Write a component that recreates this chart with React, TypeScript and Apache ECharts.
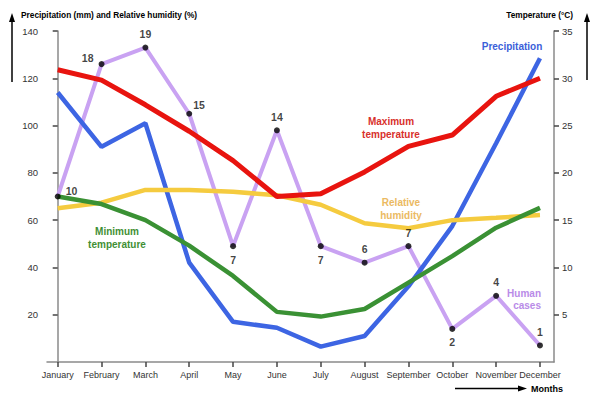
import React, { useEffect, useRef } from "react";
import * as echarts from "echarts";

const months = ["January", "February", "March", "April", "May", "June", "July", "August", "September", "October", "November", "December"];
const precipitation = [114, 91, 101, 42, 17, 14.5, 6.5, 11, 32, 57.5, 92.5, 128.5];
const humidity = [65, 67.4, 72.8, 72.8, 72, 70.5, 66.5, 58.7, 56.6, 60, 61, 62.2];
const maxTemp = [30.9, 29.8, 27.2, 24.4, 21.3, 17.5, 17.8, 20.1, 22.8, 24.0, 28.1, 30.0];
const minTemp = [17.5, 16.7, 15.0, 12.3, 9.1, 5.3, 4.8, 5.6, 8.4, 11.2, 14.2, 16.3];
const humanCases = [10, 18, 19, 15, 7, 14, 7, 6, 7, 2, 4, 1];
const leftTicks = [20, 40, 60, 80, 100, 120, 140];
const rightTicks = [5, 10, 15, 20, 25, 30, 35];
const caseLabelPos = ["right", "left", "top", "upright", "bottom", "top", "bottom", "top", "top", "bottom", "top", "top"];

const FONT = "'Liberation Sans', Arial, Helvetica, sans-serif";

export default function App() {
  const ref = useRef<HTMLDivElement>(null);
  useEffect(() => {
    if (!ref.current) return;
    const chart = echarts.init(ref.current, null, { renderer: "svg" });
    const pts = (arr: number[]) => arr.map((v, i) => [i, v]);
    const axisLineStyle = { color: "#8a8a8a", width: 1.5 };
    const labelStyle = { color: "#333", fontSize: 9.5, fontFamily: FONT, hideOverlap: false };
    const caseOffsets: Record<string, number[]> = {
      right: [0, -6],
      upright: [-4, -9],
      left: [0, -6],
      top: [0, 0],
      bottom: [0, 0],
    };
    chart.setOption({
      animation: false,
      textStyle: { fontFamily: FONT },
      grid: { left: 47, right: 46, top: 31, bottom: 40, containLabel: false },
      xAxis: {
        type: "value",
        min: -0.244,
        max: 11.32,
        splitLine: { show: false },
        axisLine: { show: true, lineStyle: axisLineStyle },
        axisTick: { show: true, customValues: months.map((_, i) => i), length: 5, lineStyle: { color: "#444", width: 1.5 } },
        axisLabel: { ...labelStyle, fontSize: 9, customValues: months.map((_, i) => i), formatter: (v: number) => months[Math.round(v)], margin: 8 },
      },
      yAxis: [
        {
          type: "value",
          min: 0,
          max: 140,
          position: "left",
          splitLine: { show: false },
          axisLine: { show: true, lineStyle: axisLineStyle },
          axisTick: { show: true, customValues: leftTicks, length: 5, lineStyle: { color: "#444", width: 1.5 } },
          axisLabel: { ...labelStyle, customValues: leftTicks, margin: 9 },
        },
        {
          type: "value",
          min: 0,
          max: 35,
          position: "right",
          splitLine: { show: false },
          axisLine: { show: true, lineStyle: axisLineStyle },
          axisTick: { show: true, customValues: rightTicks, length: 5, lineStyle: { color: "#444", width: 1.5 } },
          axisLabel: { ...labelStyle, customValues: rightTicks, margin: 8 },
        },
        {
          type: "value",
          min: 0,
          max: 20,
          show: false,
          splitLine: { show: false },
        },
      ],
      series: [
        {
          type: "line",
          name: "Human cases",
          yAxisIndex: 2,
          data: pts(humanCases),
          symbol: "none",
          lineStyle: { color: "#c9a2f2", width: 4 },
          z: 1,
        },
        {
          type: "line",
          name: "Precipitation",
          yAxisIndex: 0,
          data: pts(precipitation),
          symbol: "none",
          lineStyle: { color: "#3d65e3", width: 4.5 },
          z: 2,
        },
        {
          type: "line",
          name: "Relative humidity",
          yAxisIndex: 0,
          data: pts(humidity),
          symbol: "none",
          lineStyle: { color: "#f5cb3f", width: 4.5 },
          z: 3,
        },
        {
          type: "line",
          name: "Minimum temperature",
          yAxisIndex: 1,
          data: pts(minTemp),
          symbol: "none",
          lineStyle: { color: "#3a9134", width: 4.5 },
          z: 4,
        },
        {
          type: "line",
          name: "Maximum temperature",
          yAxisIndex: 1,
          data: pts(maxTemp),
          symbol: "none",
          lineStyle: { color: "#e8140f", width: 5 },
          z: 5,
        },
        {
          type: "scatter",
          name: "Cases points",
          yAxisIndex: 2,
          symbol: "circle",
          symbolSize: 6,
          itemStyle: { color: "#000" },
          z: 10,
          data: humanCases.map((v, i) => ({
            value: [i, v],
            label: {
              show: true,
              position: caseLabelPos[i] === "upright" ? "right" : caseLabelPos[i],
              offset: caseOffsets[caseLabelPos[i]],
              distance: 5,
              formatter: String(v),
              color: "#111",
              fontSize: 10.5,
              fontWeight: "bold",
              fontFamily: FONT,
            },
          })),
        },
      ],
      graphic: [
        { type: "line", shape: { x1: 12, y1: 82, x2: 12, y2: 20 }, style: { stroke: "#000", lineWidth: 1.5 } },
        { type: "polygon", shape: { points: [[9, 22], [15, 22], [12, 13]] }, style: { fill: "#000" } },
        { type: "line", shape: { x1: 587, y1: 80, x2: 587, y2: 20 }, style: { stroke: "#000", lineWidth: 1.5 } },
        { type: "polygon", shape: { points: [[584, 22], [590, 22], [587, 13]] }, style: { fill: "#000" } },
        { type: "line", shape: { x1: 455, y1: 388.5, x2: 520, y2: 388.5 }, style: { stroke: "#000", lineWidth: 1.5 } },
        { type: "polygon", shape: { points: [[518, 385.5], [518, 391.5], [527, 388.5]] }, style: { fill: "#000" } },
        { type: "text", x: 21, y: 15, style: { text: "Precipitation (mm) and Relative humidity (%)", fill: "#000", font: `bold 8.3px ${FONT}`, textVerticalAlign: "middle" } },
        { type: "text", x: 573, y: 15, style: { text: "Temperature (°C)", fill: "#000", font: `bold 8.3px ${FONT}`, textAlign: "right", textVerticalAlign: "middle" } },
        { type: "text", x: 531, y: 388.5, style: { text: "Months", fill: "#000", font: `bold 9px ${FONT}`, textVerticalAlign: "middle" } },
        { type: "text", x: 512, y: 46, style: { text: "Precipitation", fill: "#3b5fd9", font: `bold 10px ${FONT}`, textAlign: "center", textVerticalAlign: "middle" } },
        { type: "text", x: 391, y: 128, style: { text: "Maximum\ntemperature", fill: "#d8302c", font: `bold 10px ${FONT}`, textAlign: "center", textVerticalAlign: "middle", lineHeight: 12.5 } },
        { type: "text", x: 401, y: 209, style: { text: "Relative\nhumidity", fill: "#ebba62", font: `bold 10px ${FONT}`, textAlign: "center", textVerticalAlign: "middle", lineHeight: 12.5 } },
        { type: "text", x: 117, y: 238, style: { text: "Minimum\ntemperature", fill: "#3f8f35", font: `bold 10px ${FONT}`, textAlign: "center", textVerticalAlign: "middle", lineHeight: 12.5 } },
        { type: "text", x: 541, y: 299, style: { text: "Human\ncases", fill: "#b98be8", font: `bold 10px ${FONT}`, textAlign: "right", textVerticalAlign: "middle", lineHeight: 12 } },
      ],
    });
    return () => chart.dispose();
  }, []);
  return <div ref={ref} style={{ width: 600, height: 402, position: "absolute", left: 0, top: 0 }} />;
}
